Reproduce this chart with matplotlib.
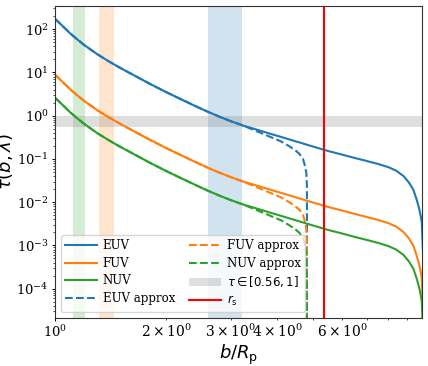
import matplotlib
matplotlib.use("Agg")
import matplotlib.pyplot as plt

plt.rcParams['font.family'] = ['DejaVu Serif']
plt.rcParams['mathtext.fontset'] = 'dejavusans'

# impact parameter grid (b / R_p) for the full curves
b_full = [1.0, 1.05, 1.1, 1.15, 1.2, 1.3, 1.4, 1.5, 1.65, 1.8, 2.0, 2.2, 2.4,
          2.6, 2.8, 3.0, 3.25, 3.5, 3.8, 4.1, 4.5, 5.0, 5.5, 6.0, 6.5, 7.0,
          7.5, 8.0, 8.4, 8.8, 9.1, 9.35, 9.55, 9.7, 9.8, 9.86, 9.95]
tau_euv = [173.9, 116.7, 79.6, 57.5, 42.9, 26.5, 17.9, 12.8, 8.26, 5.54, 3.51,
           2.37, 1.67, 1.22, 0.933, 0.742, 0.581, 0.483, 0.390, 0.322, 0.2536,
           0.1934, 0.1522, 0.1257, 0.1049, 0.0894, 0.0766, 0.0646, 0.0537,
           0.0401, 0.0284, 0.01954, 0.01148, 0.00711, 0.00465, 0.00338, 0.000498]
tau_fuv = [8.85, 5.94, 4.05, 2.93, 2.18, 1.35, 0.911, 0.652, 0.420, 0.282,
           0.179, 0.121, 0.085, 0.0621, 0.0475, 0.0378, 0.0296, 0.0246, 0.0199,
           0.0164, 0.0129, 0.00984, 0.00775, 0.0064, 0.00534, 0.00455, 0.0039,
           0.00329, 0.00273, 0.00204, 0.00145, 0.000995, 0.000584, 0.000362,
           0.000237, 0.000172, 0.0000253]
tau_nuv = [2.61, 1.75, 1.19, 0.863, 0.644, 0.398, 0.269, 0.192, 0.124, 0.0831,
           0.0527, 0.0356, 0.0251, 0.0183, 0.0140, 0.0111, 0.00872, 0.00725,
           0.00585, 0.00483, 0.00380, 0.00290, 0.00228, 0.00189, 0.00157,
           0.00134, 0.00115, 0.000969, 0.000806, 0.000602, 0.000426, 0.000293,
           0.000172, 0.000107, 0.0000698, 0.0000507, 0.0000075]

# approximations (truncated)
b_apx = [1.0, 1.05, 1.1, 1.15, 1.2, 1.3, 1.4, 1.5, 1.65, 1.8, 2.0, 2.2, 2.4,
         2.6, 2.8, 3.0, 3.25, 3.5, 3.8, 4.1, 4.33, 4.5, 4.6, 4.7, 4.76, 4.80,
         4.815, 4.82]
tau_euv_apx = [173.9, 116.7, 79.6, 57.5, 42.9, 26.5, 17.9, 12.8, 8.26, 5.54,
               3.51, 2.37, 1.67, 1.22, 0.933, 0.742, 0.581, 0.446, 0.333,
               0.253, 0.1923, 0.1529, 0.1296, 0.0996, 0.0681, 0.0460, 0.0253,
               1e-9]
tau_fuv_apx = [8.85, 5.94, 4.05, 2.93, 2.18, 1.35, 0.911, 0.652, 0.420, 0.282,
               0.179, 0.121, 0.085, 0.0621, 0.0475, 0.0378, 0.0296, 0.0227,
               0.01695, 0.01288, 0.00979, 0.00778, 0.00660, 0.00507, 0.00347,
               0.00234, 0.00129, 1e-9]
tau_nuv_apx = [2.61, 1.75, 1.19, 0.863, 0.644, 0.398, 0.269, 0.192, 0.124,
               0.0831, 0.0527, 0.0356, 0.0251, 0.0183, 0.0140, 0.0111, 0.00872,
               0.00669, 0.0050, 0.0038, 0.00288, 0.00229, 0.00194, 0.00149,
               0.00102, 0.00069, 0.00038, 1e-9]

# tau ~ 1 regions per band
span_nuv = (1.117, 1.206)
span_fuv = (1.318, 1.448)
span_euv = (2.593, 3.213)
tau_band = (0.56, 1.0)
r_s = 5.36

fig = plt.figure(figsize=(4.28, 3.66), dpi=100)
ax = fig.add_axes([0.1285, 0.131, 0.857, 0.853])

ax.plot(b_full, tau_euv, color='C0', lw=1.5, label='EUV')
ax.plot(b_full, tau_fuv, color='C1', lw=1.5, label='FUV')
ax.plot(b_full, tau_nuv, color='C2', lw=1.5, label='NUV')
ax.plot(b_apx, tau_euv_apx, color='C0', lw=1.5, ls='--', label='EUV approx')
ax.plot(b_apx, tau_fuv_apx, color='C1', lw=1.5, ls='--', label='FUV approx')
ax.plot(b_apx, tau_nuv_apx, color='C2', lw=1.5, ls='--', label='NUV approx')

ax.axvspan(*span_euv, color='C0', alpha=0.2, lw=0)
ax.axvspan(*span_fuv, color='C1', alpha=0.2, lw=0)
ax.axvspan(*span_nuv, color='C2', alpha=0.2, lw=0)
ax.axhspan(*tau_band, color='grey', alpha=0.25, lw=0, label=r'$\tau \in [0.56, 1]$')
ax.axvline(r_s, color='red', lw=1.5, label=r'$r_\mathrm{s}$')

ax.set_xscale('log')
ax.set_yscale('log')
ax.set_xlim(1.0, 9.86)
ax.set_ylim(2.1e-5, 345)
ax.set_xlabel(r'$b/R_\mathrm{p}$', fontsize=13, labelpad=2)
ax.set_ylabel(r'$\tau(b, \lambda)$', fontsize=13, labelpad=1)
ax.tick_params(which='major', labelsize=9.5, length=2.5, width=0.7, pad=2)
ax.tick_params(which='minor', length=1.5, width=0.5, pad=2)
for s in ax.spines.values():
    s.set_linewidth(0.8)
    s.set_color('#333333')

ax.legend(loc='lower left', ncol=2, fontsize=8.5, handlelength=2.7,
          handletextpad=0.5, labelspacing=0.38, columnspacing=1.2,
          borderpad=0.35, borderaxespad=0.5)

fig.savefig('out.png', dpi=100)
